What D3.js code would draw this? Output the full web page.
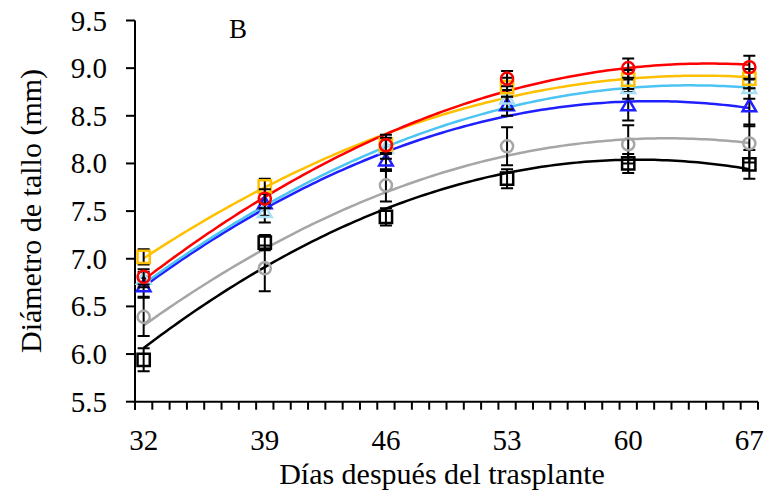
<!DOCTYPE html>
<html>
<head>
<meta charset="utf-8">
<script src="https://cdn.jsdelivr.net/npm/d3@7"></script>
<style>
  body { margin: 0; background: #fff; }
  text { font-family: "Liberation Serif", "Times New Roman", serif; }
</style>
</head>
<body>
<div class="chart"></div>
<script>
var width = 772, height = 495

// days after transplant
var days = [32, 39, 46, 53, 60, 67]
var xTickLabels = [32, 39, 46, 53, 60, 67]
var yTicks = [5.5, 6.0, 6.5, 7.0, 7.5, 8.0, 8.5, 9.0, 9.5]

// stem diameter (mm) and error bars per series
var negro = [5.94, 7.17, 7.44, 7.84, 8.00, 7.99]
var negroErr = [0.12, 0.08, 0.09, 0.10, 0.10, 0.15]
var gris = [6.39, 6.90, 7.77, 8.18, 8.20, 8.21]
var grisErr = [0.20, 0.24, 0.17, 0.20, 0.20, 0.20]
var azul = [6.70, 7.57, 8.02, 8.60, 8.60, 8.59]
var azulErr = [0.10, 0.12, 0.10, 0.10, 0.15, 0.20]
var celeste = [6.78, 7.48, 8.15, 8.67, 8.78, 8.78]
var celesteErr = [0.08, 0.10, 0.10, 0.10, 0.10, 0.10]
var naranja = [7.02, 7.76, 8.20, 8.80, 8.88, 8.89]
var naranjaErr = [0.08, 0.08, 0.10, 0.10, 0.10, 0.10]
var rojo = [6.81, 7.63, 8.19, 8.89, 9.00, 9.01]
var rojoErr = [0.08, 0.10, 0.08, 0.08, 0.10, 0.12]

function drawGraph() {
    var series = [
        {values: negro, err: negroErr, line: '#000000', marker: '#000000', shape: d3.symbolSquare, size: 150},
        {values: gris, err: grisErr, line: '#a6a6a6', marker: '#a6a6a6', shape: d3.symbolCircle, size: 115},
        {values: azul, err: azulErr, line: '#1f1fff', marker: '#1f1fff', shape: d3.symbolTriangle, size: 80},
        {values: celeste, err: celesteErr, line: '#4cc4f4', marker: '#a8dff5', shape: d3.symbolTriangle, size: 80},
        {values: naranja, err: naranjaErr, line: '#ffc000', marker: '#ffc000', shape: d3.symbolSquare, size: 150},
        {values: rojo, err: rojoErr, line: '#ff0000', marker: '#ff0000', shape: d3.symbolCircle, size: 115}
    ]

    const svg = d3.select('.chart')
        .append('svg')
        .attr('width', width)
        .attr('height', height)

    var x = d3.scaleLinear().domain([31.5, 67.5]).range([135, 758])
    var y = d3.scaleLinear().domain([5.5, 9.5]).range([401.7, 20.5])

    // y axis
    svg.append('line')
        .attr('x1', x(31.5)).attr('x2', x(31.5))
        .attr('y1', y(9.5)).attr('y2', y(5.5) + 8)
        .attr('stroke', 'black').attr('stroke-width', 2)
    svg.selectAll('ytick')
        .data(yTicks)
        .enter()
        .append('line')
        .attr('x1', x(31.5) - 9).attr('x2', x(31.5))
        .attr('y1', d => y(d)).attr('y2', d => y(d))
        .attr('stroke', 'black').attr('stroke-width', 2)
    svg.selectAll('ylabel')
        .data(yTicks)
        .enter()
        .append('text')
        .text(d => d.toFixed(1))
        .attr('x', 107)
        .attr('y', d => y(d) + 10)
        .style('text-anchor', 'end')
        .style('font-size', '29px')

    // x axis, ticks between categories
    svg.append('line')
        .attr('x1', x(31.5)).attr('x2', x(67.5))
        .attr('y1', y(5.5)).attr('y2', y(5.5))
        .attr('stroke', 'black').attr('stroke-width', 2)
    svg.selectAll('xtick')
        .data(d3.range(31.5, 68, 1))
        .enter()
        .append('line')
        .attr('x1', d => x(d)).attr('x2', d => x(d))
        .attr('y1', y(5.5)).attr('y2', y(5.5) + 8)
        .attr('stroke', 'black').attr('stroke-width', 2)
    svg.selectAll('xlabel')
        .data(xTickLabels)
        .enter()
        .append('text')
        .text(d => d)
        .attr('x', d => x(d))
        .attr('y', 450)
        .style('text-anchor', 'middle')
        .style('font-size', '29px')

    // axis titles
    svg.append('text')
        .text('Días después del trasplante')
        .attr('x', 442).attr('y', 484)
        .style('text-anchor', 'middle')
        .style('font-size', '30px')
    svg.append('text')
        .text('Diámetro de tallo (mm)')
        .attr('transform', 'translate(41,211) rotate(-90)')
        .style('text-anchor', 'middle')
        .style('font-size', '30px')
    svg.append('text')
        .text('B')
        .attr('x', 229).attr('y', 38)
        .style('font-size', '27px')

    // polynomial (order 2) trend line by least squares
    function quadFit(xs, ys) {
        var m = d3.mean(xs)
        var s = [0, 0, 0, 0, 0], t = [0, 0, 0]
        xs.forEach(function(xv, i) {
            var u = xv - m
            for (var k = 0; k < 5; k++) s[k] += Math.pow(u, k)
            for (var k = 0; k < 3; k++) t[k] += ys[i] * Math.pow(u, k)
        })
        var A = [[s[0], s[1], s[2], t[0]], [s[1], s[2], s[3], t[1]], [s[2], s[3], s[4], t[2]]]
        for (var i = 0; i < 3; i++) {
            for (var j = i + 1; j < 3; j++) {
                var f = A[j][i] / A[i][i]
                for (var k = i; k < 4; k++) A[j][k] -= f * A[i][k]
            }
        }
        var c = [0, 0, 0]
        for (var i = 2; i >= 0; i--) {
            var v = A[i][3]
            for (var k = i + 1; k < 3; k++) v -= A[i][k] * c[k]
            c[i] = v / A[i][i]
        }
        return function(xv) { var u = xv - m; return c[0] + c[1] * u + c[2] * u * u }
    }

    var line = d3.line().x(d => x(d[0])).y(d => y(d[1]))
    var steps = d3.range(32, 67.01, 0.25)

    series.forEach(function(s) {
        var f = quadFit(days, s.values)
        svg.append('path')
            .attr('d', line(steps.map(d => [d, f(d)])))
            .attr('fill', 'none')
            .attr('stroke', s.line)
            .style('stroke-width', '2.5px')
    })

    series.forEach(function(s) {
        var g = svg.append('g')
        var pts = days.map((d, i) => ({d: d, v: s.values[i], e: s.err[i]}))
        g.selectAll('ebar')
            .data(pts)
            .enter()
            .append('path')
            .attr('d', p => 'M' + x(p.d) + ',' + y(p.v - p.e) + 'V' + y(p.v + p.e) +
                'M' + (x(p.d) - 6) + ',' + y(p.v - p.e) + 'h12' +
                'M' + (x(p.d) - 6) + ',' + y(p.v + p.e) + 'h12')
            .attr('stroke', 'black')
            .attr('fill', 'none')
            .style('stroke-width', '2px')
        g.selectAll('marker')
            .data(pts)
            .enter()
            .append('path')
            .attr('d', d3.symbol().type(s.shape).size(s.size))
            .attr('transform', p => 'translate(' + x(p.d) + ',' + y(p.v) + ')')
            .attr('fill', 'none')
            .attr('stroke', s.marker)
            .style('stroke-width', '2.5px')
    })
}

drawGraph()
</script>
</body>
</html>
